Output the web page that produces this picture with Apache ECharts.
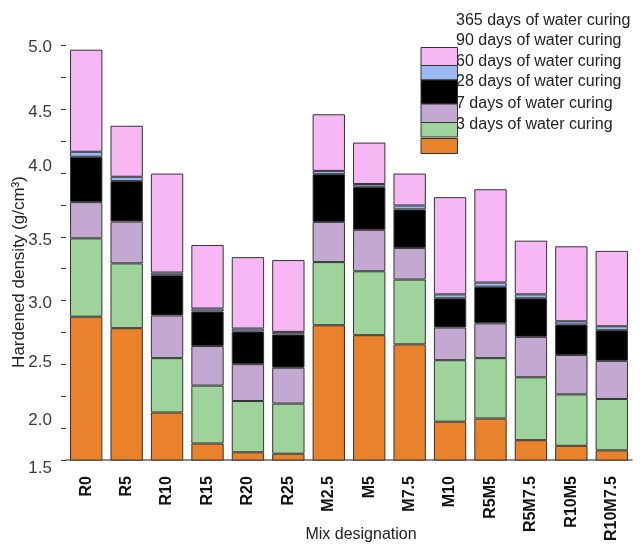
<!DOCTYPE html>
<html>
<head>
<meta charset="utf-8">
<script src="https://cdn.jsdelivr.net/npm/echarts@6/dist/echarts.min.js"></script>
<style>
  html, body { margin: 0; padding: 0; background: #fff; }
  #chart { width: 643px; height: 544px; }
</style>
</head>
<body>
<div id="chart"></div>
<script>
// Mix designations along the x axis
const categories = ['R0', 'R5', 'R10', 'R15', 'R20', 'R25', 'M2.5', 'M5', 'M7.5', 'M10', 'R5M5', 'R5M7.5', 'R10M5', 'R10M7.5'];

// Stacked segments (g/cm³), bottom to top
const day3   = [2.874, 2.784, 2.123, 1.880, 1.811, 1.800, 2.807, 2.729, 2.657, 2.051, 2.076, 1.906, 1.862, 1.826];
const day7   = [0.614, 0.508, 0.426, 0.454, 0.402, 0.393, 0.495, 0.501, 0.508, 0.482, 0.473, 0.493, 0.403, 0.403];
const day28  = [0.284, 0.328, 0.335, 0.310, 0.289, 0.281, 0.315, 0.325, 0.248, 0.256, 0.273, 0.317, 0.309, 0.299];
const day60  = [0.356, 0.317, 0.315, 0.271, 0.256, 0.261, 0.374, 0.338, 0.302, 0.229, 0.287, 0.302, 0.238, 0.240];
const day90  = [0.039, 0.034, 0.021, 0.023, 0.023, 0.020, 0.026, 0.021, 0.031, 0.031, 0.033, 0.031, 0.026, 0.031];
const day365 = [0.800, 0.400, 0.776, 0.498, 0.560, 0.563, 0.444, 0.325, 0.250, 0.762, 0.731, 0.421, 0.588, 0.591];

// Y axis tick labels, one per 0.25 tick starting from the axis minimum (1.75)
const yTickLabels = ['1.5', '2.0', '', '2.5', '', '3.0', '', '3.5', '', '4.0', '', '4.5', '', '5.0'];

// Legend texts, top row first
const legendLabels = [
  '365 days of water curing',
  '90 days of water curing',
  '60 days of water curing',
  '28 days of water curing',
  '7 days of water curing',
  '3 days of water curing'
];

// ---- styling ----
const FONT = "'Liberation Sans', Arial, Helvetica, sans-serif";
const colors = {
  d3: '#E9822A',
  d7: '#9ED39B',
  d28: '#C3A9D1',
  d60: '#000000',
  d90: '#9AB8F1',
  d365: '#F6B7F4'
};
const edge = '#333333';

// small vertical nudges for individual y labels (px, positive = down)
const yLabelNudge = { '5.0': 2, '4.5': 3, '4.0': -7, '3.5': 3, '3.0': 3, '2.5': -2, '2.0': -8, '1.5': 8 };
const yRich = {};
const yRichKey = {};
Object.keys(yLabelNudge).forEach(function (k, i) {
  const d = yLabelNudge[k];
  yRich['n' + i] = {
    fontFamily: FONT, fontSize: 17, color: '#3a3a3a',
    padding: d < 0 ? [0, 0, -2 * d, 0] : [2 * d, 0, 0, 0]
  };
  yRichKey[k] = 'n' + i;
});

function makeSeries(name, data, color) {
  return {
    name: name,
    type: 'bar',
    stack: 'density',
    data: data,
    barWidth: '80%',
    itemStyle: { color: color, borderColor: edge, borderWidth: 1 },
    emphasis: { disabled: true }
  };
}

// Legend swatches (stacked block) and texts
const swatches = [
  { c: colors.d365, y: 47.5, h: 18 },
  { c: colors.d90, y: 65.5, h: 14.5 },
  { c: colors.d60, y: 80, h: 24 },
  { c: colors.d28, y: 104, h: 18.5 },
  { c: colors.d7, y: 122.5, h: 14.5 },
  { c: colors.d3, y: 138.5, h: 15 }
];
const legendTextY = [20.5, 41, 62, 82, 104, 125];

const graphics = [];
legendLabels.forEach(function (t, i) {
  graphics.push({
    type: 'text', x: 456, y: legendTextY[i], z: 10,
    style: { text: t, font: '16px ' + FONT, fill: '#222', verticalAlign: 'middle', align: 'left' }
  });
});
swatches.forEach(function (s) {
  graphics.push({
    type: 'rect', z: 20,
    shape: { x: 421, y: s.y, width: 36.5, height: s.h },
    style: { fill: s.c, stroke: edge, lineWidth: 1 }
  });
});
// Axis titles
graphics.push({
  type: 'text', x: 19, y: 272, rotation: Math.PI / 2, z: 10,
  style: { text: 'Hardened density (g/cm³)', font: '17px ' + FONT, fill: '#222', align: 'center', verticalAlign: 'middle' }
});
graphics.push({
  type: 'text', x: 361, y: 535, z: 10,
  style: { text: 'Mix designation', font: '16px ' + FONT, fill: '#222', align: 'center', verticalAlign: 'middle' }
});

const chart = echarts.init(document.getElementById('chart'), null, { renderer: 'canvas' });
chart.setOption({
  animation: false,
  backgroundColor: '#ffffff',
  grid: { left: 66, right: 11, top: 45.5, bottom: 78.5, containLabel: false },
  xAxis: {
    type: 'category',
    data: categories,
    axisLine: { lineStyle: { color: '#666', width: 1.5 } },
    axisTick: { alignWithLabel: true, length: 8, lineStyle: { color: '#333', width: 1 } },
    axisLabel: {
      rotate: 90, margin: 16, interval: 0,
      fontFamily: FONT, fontSize: 16, fontWeight: 'bold', color: '#111'
    },
    splitLine: { show: false }
  },
  yAxis: {
    type: 'value',
    min: 1.75,
    max: 5.0,
    interval: 0.25,
    axisLine: { show: false },
    axisTick: { show: true, length: 5, lineStyle: { color: '#333', width: 1 } },
    splitLine: { show: false },
    axisLabel: {
      margin: 14,
      showMinLabel: true, showMaxLabel: true,
      formatter: function (value, index) {
        const t = yTickLabels[index] || '';
        if (!t) return '';
        return '{' + yRichKey[t] + '|' + t + '}';
      },
      rich: yRich
    }
  },
  series: [
    makeSeries('3 days of water curing', day3, colors.d3),
    makeSeries('7 days of water curing', day7, colors.d7),
    makeSeries('28 days of water curing', day28, colors.d28),
    makeSeries('60 days of water curing', day60, colors.d60),
    makeSeries('90 days of water curing', day90, colors.d90),
    makeSeries('365 days of water curing', day365, colors.d365)
  ],
  graphic: graphics
});
</script>
</body>
</html>
